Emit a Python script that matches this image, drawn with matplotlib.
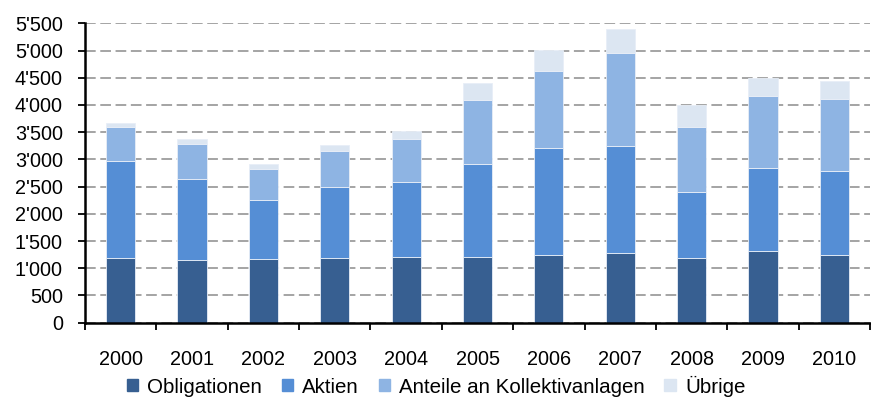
import matplotlib
matplotlib.use("Agg")
import matplotlib.pyplot as plt
from matplotlib.ticker import FuncFormatter, MultipleLocator
from matplotlib.patches import Patch
import numpy as np

plt.rcParams['font.family'] = ['Liberation Sans', 'DejaVu Sans']

# Werte
jahre = ['2000', '2001', '2002', '2003', '2004', '2005', '2006', '2007', '2008', '2009', '2010']
obligationen = [1182, 1151, 1164, 1182, 1213, 1213, 1243, 1280, 1182, 1311, 1243]
aktien = [1795, 1495, 1096, 1305, 1378, 1703, 1973, 1972, 1225, 1537, 1538]
kollektiv = [624, 631, 570, 673, 790, 1176, 1402, 1697, 1194, 1311, 1335]
uebrige = [68, 92, 92, 105, 141, 318, 392, 447, 399, 337, 331]

serien = ['Obligationen', 'Aktien', 'Anteile an Kollektivanlagen', 'Übrige']
farben = ['#375F91', '#558ED5', '#8EB4E3', '#DCE6F2']

fig = plt.figure(figsize=(8.71, 3.98), dpi=100)
ax = fig.add_axes([85/871, 1-322.7/398, 785/871, 299.4/398])

x = np.arange(len(jahre))
unten = np.zeros(len(jahre))
for werte, farbe in zip([obligationen, aktien, kollektiv, uebrige], farben):
    ax.bar(x, werte, 0.41, bottom=unten, color=farbe, edgecolor='#E8EEF7', linewidth=0.6, zorder=3)
    unten = unten + np.array(werte)

ax.set_xlim(-0.5, len(jahre) - 0.5)
ax.set_ylim(0, 5500)
ax.yaxis.set_major_locator(MultipleLocator(500))
ax.yaxis.set_major_formatter(FuncFormatter(lambda v, p: '{:,}'.format(int(v)).replace(',', "'")))

ax.set_xticks(x)
ax.set_xticklabels(jahre)
ax.set_xticks(np.arange(-0.5, len(jahre)), minor=True)
ax.tick_params(axis='x', which='major', length=0, pad=20, labelsize=14.3)
ax.tick_params(axis='x', which='minor', length=5, width=1.3, direction='out')
ax.tick_params(axis='y', length=5, width=1.3, pad=11, labelsize=14.3)

ax.grid(axis='y', color='#8C8C8C', linestyle=(0, (7, 3)), linewidth=1.1, zorder=0)
ax.set_axisbelow(True)
for s in ['top', 'right']:
    ax.spines[s].set_visible(False)
for s in ['left', 'bottom']:
    ax.spines[s].set_linewidth(1.8)
    ax.spines[s].set_zorder(4)

handles = [Patch(color=f, label=n) for f, n in zip(farben, serien)]
fig.legend(handles=handles, loc='center', bbox_to_anchor=(436/871, 1-386/398), ncol=4,
           frameon=False, fontsize=14.8, handlelength=0.55, handleheight=0.55,
           handletextpad=0.45, columnspacing=0.95, borderpad=0)

fig.savefig('out.png', dpi=100)
